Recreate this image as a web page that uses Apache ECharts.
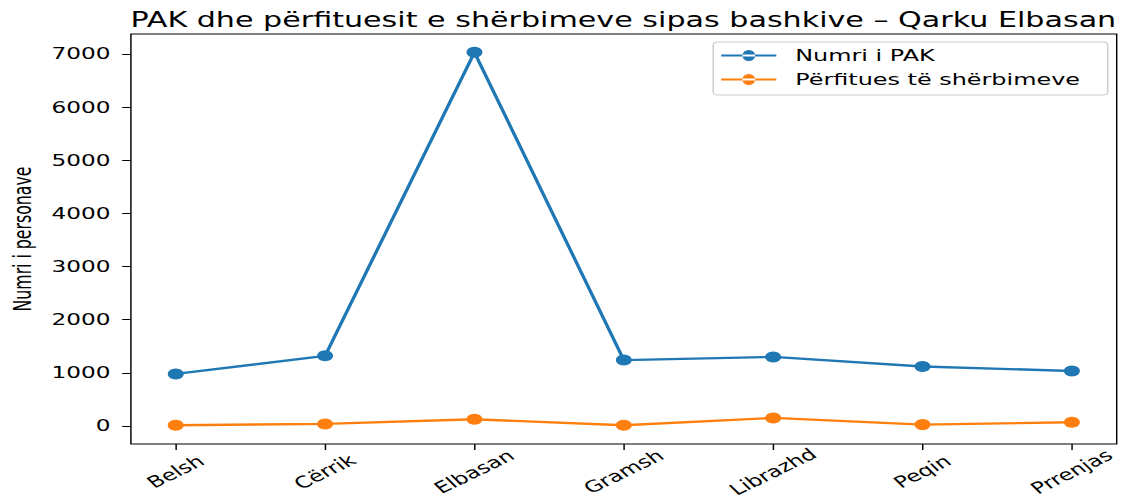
<!DOCTYPE html>
<html>
<head>
<meta charset="utf-8">
<script src="https://cdn.jsdelivr.net/npm/echarts@6.0.0/dist/echarts.min.js"></script>
<style>
  html, body { margin: 0; padding: 0; background: #fff; overflow: hidden; }
  /* the reference picture is stretched sideways, so the chart is laid out narrow and stretched */
  #chart { width: 776px; height: 499px; transform: scaleX(1.4497); transform-origin: 0 0; }
</style>
</head>
<body>
<div id="chart"></div>
<script>
var bashkite = ['Belsh', 'Cërrik', 'Elbasan', 'Gramsh', 'Librazhd', 'Peqin', 'Prrenjas'];
var numriPAK = [980, 1320, 7035, 1240, 1300, 1120, 1035];
var perfitues = [13, 38, 126, 13, 151, 25, 70];
var yTicks = [0, 1000, 2000, 3000, 4000, 5000, 6000, 7000];
var xTicks = [0, 1, 2, 3, 4, 5, 6];

var chart = echarts.init(document.getElementById('chart'), null, { renderer: 'svg' });

function pairs(values) {
    return values.map(function (v, i) { return [i, v]; });
}

// legend icon: line with a dot in the middle
var legendIcon = 'path://M0,4.6h38v1.8h-38z M14.6,5.5a4.4,5.5 0 1,0 8.8,0a4.4,5.5 0 1,0 -8.8,0z';

var option = {
    animation: false,
    backgroundColor: '#fff',
    title: {
        text: 'PAK dhe përfituesit e shërbimeve sipas bashkive – Qarku Elbasan',
        left: 430,
        top: 9,
        textAlign: 'center',
        padding: 0,
        textStyle: { fontFamily: 'DejaVu Sans', fontSize: 20.8, fontWeight: 'normal', color: '#000' }
    },
    legend: {
        orient: 'vertical',
        left: 492,
        top: 42,
        padding: [5, 19, 7, 5.5],
        itemWidth: 38,
        itemHeight: 11,
        itemGap: 7,
        borderColor: '#cccccc',
        borderWidth: 1,
        borderRadius: 3,
        backgroundColor: 'rgba(255,255,255,0.8)',
        data: [
            { name: 'Numri i PAK', icon: legendIcon },
            { name: 'Përfitues të shërbimeve', icon: legendIcon }
        ],
        textStyle: { fontFamily: 'DejaVu Sans', fontSize: 16.5, color: '#000', padding: [0, 0, 0, 8] }
    },
    grid: {
        left: 90.3,
        right: 5.7,
        top: 34,
        bottom: 55,
        outerBoundsMode: 'none',
        show: true,
        borderColor: '#000',
        borderWidth: 1
    },
    xAxis: {
        type: 'value',
        min: -0.3,
        max: 6.3,
        splitLine: { show: false },
        axisLine: { show: false, onZero: false },
        axisTick: { show: true, length: 6, lineStyle: { color: '#000' }, customValues: xTicks },
        axisLabel: {
            customValues: xTicks,
            rotate: 35,
            align: 'center',
            verticalAlign: 'middle',
            margin: 28,
            fontFamily: 'DejaVu Sans',
            fontSize: 16,
            color: '#000',
            formatter: function (v) { return bashkite[Math.round(v)]; }
        }
    },
    yAxis: {
        type: 'value',
        min: -340,
        max: 7380,
        name: 'Numri i personave',
        nameLocation: 'middle',
        nameGap: 63.5,
        nameTextStyle: {
            fontFamily: '"Liberation Sans Narrow", "DejaVu Sans Condensed", "Open Sans", sans-serif',
            fontSize: 17.5,
            color: '#000'
        },
        splitLine: { show: false },
        axisLine: { show: false, onZero: false },
        axisTick: { show: true, length: 6, lineStyle: { color: '#000' }, customValues: yTicks },
        axisLabel: {
            customValues: yTicks,
            margin: 14,
            fontFamily: 'DejaVu Sans',
            fontSize: 16,
            color: '#000',
            formatter: function (v) { return String(v); }
        }
    },
    series: [
        {
            name: 'Numri i PAK',
            type: 'line',
            data: pairs(numriPAK),
            color: '#1f77b4',
            symbol: 'circle',
            symbolSize: 11,
            showAllSymbol: true,
            lineStyle: { width: 2.4 }
        },
        {
            name: 'Përfitues të shërbimeve',
            type: 'line',
            data: pairs(perfitues),
            color: '#ff7f0e',
            symbol: 'circle',
            symbolSize: 11,
            showAllSymbol: true,
            lineStyle: { width: 2.4 }
        }
    ]
};

chart.setOption(option);
</script>
</body>
</html>
